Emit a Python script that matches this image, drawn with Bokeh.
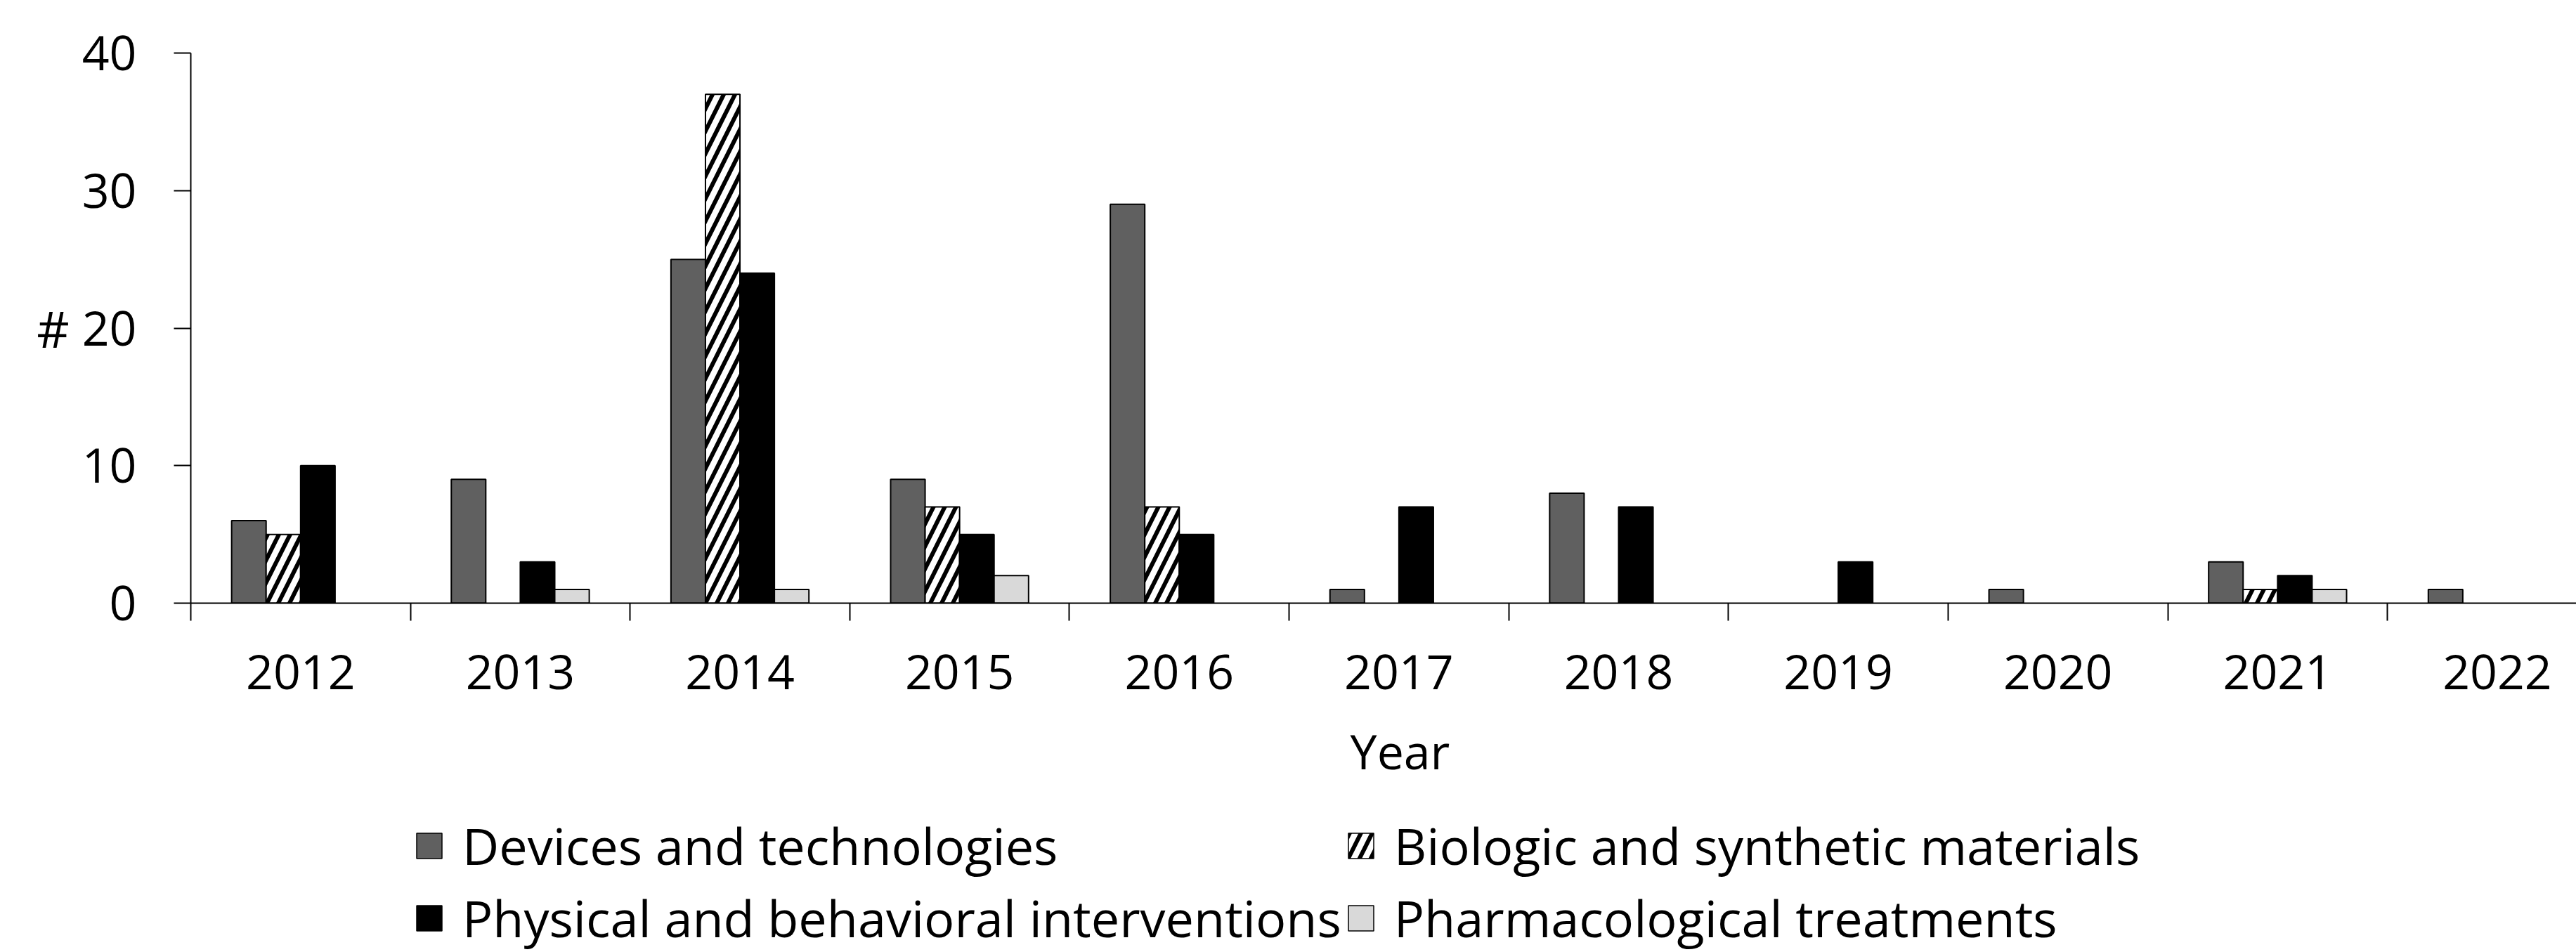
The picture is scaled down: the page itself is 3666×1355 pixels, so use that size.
import numpy as np
from bokeh.plotting import figure
from bokeh.layouts import column
from bokeh.models import Range1d, FixedTicker, ColumnDataSource, Legend, LegendItem, Label
from bokeh.embed import file_html
from bokeh.resources import INLINE

# ---- data ----
years = ["2012", "2013", "2014", "2015", "2016", "2017", "2018", "2019", "2020", "2021", "2022"]
devices = [6, 9, 25, 9, 29, 1, 8, 0, 1, 3, 1]
biologic = [5, 0, 37, 7, 7, 0, 0, 0, 0, 1, 0]
physical = [10, 3, 24, 5, 5, 7, 7, 3, 0, 2, 0]
pharma = [0, 1, 1, 2, 0, 0, 0, 0, 0, 1, 0]
series_names = ["Devices and technologies", "Biologic and synthetic materials",
                "Physical and behavioral interventions", "Pharmacological treatments"]
y_ticks = [0, 10, 20, 30, 40]

FONT = "Open Sans"
FS = "68px"
W = 3666
H1 = 1010
H2 = 345
LEFT = 271

p = figure(width=W, height=H1,
           x_range=Range1d(0, 10.86), y_range=Range1d(0, 40),
           output_backend="svg", toolbar_location=None,
           min_border_left=LEFT, min_border_right=0,
           min_border_top=75, min_border_bottom=152)
p.outline_line_color = None
p.grid.visible = False

bar_w = 0.157
series = [devices, biologic, physical, pharma]
styles = [
    dict(fill_color="#606060"),
    dict(fill_color="white", hatch_pattern="/", hatch_color="black", hatch_weight=6, hatch_scale=32),
    dict(fill_color="black"),
    dict(fill_color="#d9d9d9"),
]
for i, (vals, st) in enumerate(zip(series, styles)):
    off = 0.5 + (i - 1.5) * bar_w
    xs = [j + off for j, v in enumerate(vals) if v > 0]
    tops = [v for v in vals if v > 0]
    src = ColumnDataSource(dict(x=xs, top=tops))
    p.vbar(x="x", top="top", bottom=0, width=bar_w, source=src,
           line_color="black", line_width=2, **st)

# x axis: labels at category centers, boundary ticks as minor ticks
xa = p.xaxis[0]
xa.ticker = FixedTicker(ticks=[j + 0.5 for j in range(len(years))],
                        minor_ticks=list(range(len(years) + 1)))
xa.major_label_overrides = {j + 0.5: y for j, y in enumerate(years)}
xa.major_tick_out = 0
xa.major_tick_in = 0
xa.minor_tick_out = 25
xa.minor_tick_in = 0
xa.minor_tick_line_color = "black"
xa.minor_tick_line_width = 2
xa.axis_line_width = 2
xa.axis_line_color = "black"
xa.major_label_standoff = 48
xa.major_label_text_font = FONT
xa.major_label_text_font_size = FS
xa.major_label_text_color = "black"

ya = p.yaxis[0]
ya.ticker = FixedTicker(ticks=y_ticks)
ya.major_tick_out = 24
ya.major_tick_in = 0
ya.major_tick_line_width = 2
ya.major_tick_line_color = "black"
ya.axis_line_width = 2
ya.axis_line_color = "black"
ya.major_label_standoff = 53
ya.major_label_text_font = FONT
ya.major_label_text_font_size = FS
ya.major_label_text_color = "black"
ya.axis_label = "#"
ya.axis_label_orientation = "horizontal"
ya.axis_label_standoff = 15
ya.axis_label_text_font = FONT
ya.axis_label_text_font_size = "72px"
ya.axis_label_text_font_style = "normal"
ya.axis_label_text_color = "black"

# ---- lower panel: axis title and legend (frame aligned with the chart's frame) ----
p2 = figure(width=W, height=H2, x_range=Range1d(LEFT, W), y_range=Range1d(H2, 0),
            output_backend="svg", toolbar_location=None,
            x_axis_location=None, y_axis_location=None,
            min_border_left=LEFT, min_border_right=0, min_border_top=0, min_border_bottom=0)
p2.outline_line_color = None
p2.grid.visible = False

p2.add_layout(Label(x=1992, y=58, text="Year",
                    text_align="center", text_baseline="middle",
                    text_font=FONT, text_font_size=FS, text_color="black"))

# legend swatches: renderers without drawable geometry (NaN), used only by the legend
dummies = []
for st in styles:
    src = ColumnDataSource(dict(x=np.array([np.nan]), top=np.array([np.nan])))
    r = p2.vbar(x="x", top="top", bottom=0, width=1, source=src,
                line_color="black", line_width=1.5, **st)
    dummies.append(r)

legend = Legend(items=[LegendItem(label=n, renderers=[r]) for n, r in zip(series_names, dummies)],
                location=(588 - LEFT, 0), orientation="horizontal", ncols=2,
                glyph_width=45, glyph_height=45, label_standoff=25, spacing=5, label_height=90,
                padding=0, margin=0, border_line_color=None, background_fill_alpha=0,
                label_text_font=FONT, label_text_font_size="72px", label_text_color="black")
p2.add_layout(legend)

layout = column(p, p2, spacing=0)
open("out.html", "w").write(file_html(layout, INLINE))
